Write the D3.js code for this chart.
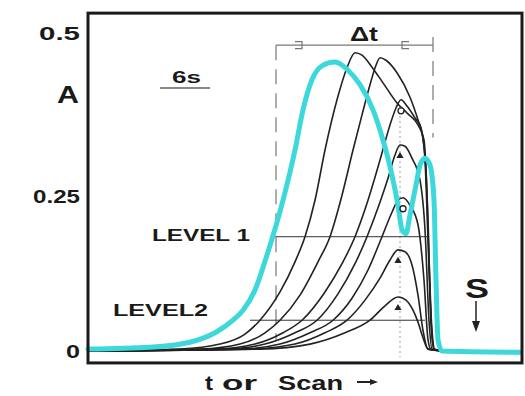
<!DOCTYPE html>
<html lang="en">
<head>
<meta charset="UTF-8">
<title>Peak profiles vs scan</title>
<script src="https://d3js.org/d3.v7.min.js"></script>
<style>
  body, html { margin: 0; background: #fff; }
  text { font-family: "Liberation Sans", Arial, sans-serif; fill: #1a1a1a; font-weight: bold; }
</style>
</head>
<body>
<div id="chart"></div>
<script>
// scan position t (arbitrary units) vs absorbance A
const yTicks = [0, 0.25, 0.5];
const yTickLabels = ["0", "0.25", "0.5"];

// thick cyan profile
const cyanPeak = [[0,0.003],[6.2,0.006],[10.2,0.014],[12.7,0.029],[14.5,0.049],[15.5,0.065],[16.7,0.097],
  [17.9,0.153],[19.5,0.240],[20.7,0.320],[21.5,0.384],[22.4,0.432],[23.4,0.454],[24.7,0.460],[26.0,0.447],
  [27.2,0.424],[28.5,0.384],[29.5,0.336],[30.4,0.280],[31.0,0.232],[31.4,0.193],[31.8,0.187],[32.2,0.217],
  [32.8,0.264],[33.2,0.296],[33.7,0.307],[34.2,0.296],[34.6,0.240],[34.8,0.113],[35.0,0.018],[35.4,0],
  [43.2,-0.002]];

// thin black family, largest first
const peak1 = [[0,0],[9.2,0.003],[13.2,0.011],[15.7,0.027],[17.2,0.049],[19.2,0.094],[20.7,0.142],[21.7,0.182],
  [22.7,0.240],[23.7,0.320],[24.9,0.400],[25.9,0.451],[26.7,0.475],[27.4,0.471],[28.4,0.452],[29.5,0.427],
  [30.9,0.395],[31.9,0.379],[33.0,0.360],[33.6,0.336],[34.0,0.209],[34.3,0.049],[34.6,0.003],[35.7,0]];
const peak2 = [[0,0],[11.2,0.003],[15.2,0.011],[17.7,0.029],[19.2,0.049],[21.2,0.089],[23.0,0.142],[24.2,0.182],
  [25.4,0.248],[26.5,0.320],[27.4,0.376],[28.2,0.424],[28.8,0.455],[29.2,0.467],[29.8,0.463],[30.9,0.443],
  [32.2,0.404],[33.0,0.368],[33.4,0.347],[33.8,0.288],[34.1,0.145],[34.4,0.033],[34.7,0.002],[35.7,0]];
const peak3 = [[0,0],[12.7,0.003],[16.7,0.011],[19.5,0.029],[21.4,0.049],[23.7,0.094],[25.4,0.139],[26.7,0.182],
  [28.0,0.240],[29.2,0.304],[30.2,0.360],[30.8,0.387],[31.3,0.400],[31.9,0.390],[32.7,0.371],[33.3,0.355],
  [33.7,0.304],[34.0,0.177],[34.3,0.049],[34.6,0.002],[35.7,0]];
const peak4 = [[0,0],[13.7,0.003],[17.7,0.011],[20.7,0.029],[22.9,0.049],[25.0,0.091],[26.7,0.139],[27.9,0.182],
  [29.0,0.228],[30.0,0.275],[30.7,0.312],[31.2,0.328],[31.7,0.326],[32.4,0.307],[33.2,0.272],[33.7,0.193],
  [34.1,0.049],[34.4,0.003],[35.7,0]];
const peak5 = [[0,0],[15.2,0.003],[19.2,0.011],[22.2,0.029],[24.5,0.049],[26.4,0.084],[28.0,0.129],[29.4,0.182],
  [30.4,0.221],[31.0,0.240],[31.5,0.244],[32.2,0.232],[33.0,0.201],[33.6,0.113],[34.0,0.018],[34.3,0.002],[35.7,0]];
const peak6 = [[0,0],[16.2,0.003],[20.7,0.011],[23.7,0.029],[25.9,0.049],[27.7,0.081],[29.2,0.116],[30.2,0.145],
  [31.0,0.161],[31.7,0.158],[32.4,0.137],[33.0,0.089],[33.5,0.033],[34.0,0.003],[35.7,0]];
const peak7 = [[0,0],[17.2,0.003],[22.2,0.011],[25.7,0.029],[28.2,0.049],[29.7,0.072],[31.0,0.086],[31.8,0.081],
  [32.5,0.065],[33.0,0.046],[33.5,0.021],[34.0,0.003],[35.7,0]];

const blackPeaks = [peak1, peak2, peak3, peak4, peak5, peak6, peak7];
// marker drawn just under the apex of the smaller peaks
const markedPeaks = [peak3, peak4, peak5, peak6, peak7];
const markerShapes = ["circle", "triangle", "circle", "triangle", "triangle"];

// detection levels
const levelNames = ["LEVEL 1", "LEVEL2"];
const levelA = [0.182, 0.049];
const levelFrom = [18.2, 16.2];
const levelTo = [34.0, 33.7];

// Δt window
const dtStart = 18.8, dtEnd = 34.5, dtA = 0.487;

const W = 525, H = 396;
const x = d3.scaleLinear().domain([0, 43.4]).range([88, 522]);
const y = d3.scaleLinear().domain([0, 0.5]).range([351, 37]);

const svg = d3.select("#chart").append("svg")
    .attr("width", W).attr("height", H);

// background guides
svg.append("line")
    .attr("x1", x(dtStart)).attr("x2", x(dtStart))
    .attr("y1", y(dtA)).attr("y2", y(0.018))
    .attr("stroke", "#9a9a9a").attr("stroke-width", 1.6)
    .attr("stroke-dasharray", "15,9");
svg.append("line")
    .attr("x1", x(dtEnd)).attr("x2", x(dtEnd))
    .attr("y1", y(0.5)).attr("y2", y(0.34))
    .attr("stroke", "#9a9a9a").attr("stroke-width", 1.6)
    .attr("stroke-dasharray", "15,9");

// Δt dimension line
svg.append("line")
    .attr("x1", x(dtStart)).attr("x2", x(dtEnd))
    .attr("y1", y(dtA)).attr("y2", y(dtA))
    .attr("stroke", "#777").attr("stroke-width", 1.2);
[[dtStart + 2.4, -1], [dtEnd - 2.9, 1]].forEach(([t, dir]) => {
  const cx = x(t), cy = y(dtA);
  svg.append("path")
      .attr("d", `M${cx + dir * 5},${cy - 3.5} L${cx - dir * 2},${cy - 3.5} L${cx - dir * 2},${cy + 3.5} L${cx + dir * 5},${cy + 3.5}`)
      .attr("fill", "none").attr("stroke", "#777").attr("stroke-width", 1.2);
});

// dotted apex line
svg.append("line")
    .attr("x1", x(31.2)).attr("x2", x(31.2))
    .attr("y1", y(0.39)).attr("y2", y(-0.01))
    .attr("stroke", "#b0b0b0").attr("stroke-width", 1.2)
    .attr("stroke-dasharray", "2,3");

// level lines
levelNames.forEach((name, i) => {
  svg.append("line")
      .attr("x1", x(levelFrom[i])).attr("x2", x(levelTo[i]))
      .attr("y1", y(levelA[i])).attr("y2", y(levelA[i]))
      .attr("stroke", "#333").attr("stroke-width", 1);
});

const line = d3.line()
    .x(d => x(d[0]))
    .y(d => y(d[1]))
    .curve(d3.curveMonotoneX);

svg.append("g")
  .selectAll("path")
  .data(blackPeaks)
  .join("path")
    .attr("d", line)
    .attr("fill", "none")
    .attr("stroke", "#222")
    .attr("stroke-width", 1.6)
    .attr("stroke-linejoin", "round");

svg.append("path")
    .datum(cyanPeak)
    .attr("d", line)
    .attr("fill", "none")
    .attr("stroke", "#3cd8dc")
    .attr("stroke-width", 5)
    .attr("stroke-linejoin", "round")
    .attr("stroke-linecap", "round");

// apex markers
markedPeaks.forEach((p, i) => {
  const top = p.reduce((a, b) => b[1] > a[1] ? b : a);
  const mx = x(top[0]), my = y(top[1]) + 11;
  if (markerShapes[i] === "circle") {
    svg.append("circle").attr("cx", mx).attr("cy", my).attr("r", 3)
        .attr("fill", "#fff").attr("stroke", "#222").attr("stroke-width", 1.3);
  } else {
    svg.append("path")
        .attr("transform", `translate(${mx},${my})`)
        .attr("d", d3.symbol(d3.symbolTriangle, 22)())
        .attr("fill", "#222");
  }
});

// frame
svg.append("rect")
    .attr("x", x(0)).attr("y", y(0.538))
    .attr("width", x(43.4) - x(0))
    .attr("height", y(-0.019) - y(0.538))
    .attr("fill", "none").attr("stroke", "#1a1a1a").attr("stroke-width", 3);

// text helper: stretched to match the wide lettering of the original
function label(str, x0, base, size, len) {
  svg.append("text")
      .attr("x", x0).attr("y", base)
      .attr("font-size", size)
      .attr("textLength", len)
      .attr("lengthAdjust", "spacingAndGlyphs")
      .text(str);
}

// y tick labels
const tickStart = [66, 33, 39];
const tickLen = [14, 47, 41];
const tickShift = [7, 9, 3];
yTicks.forEach((v, i) => label(yTickLabels[i], tickStart[i], y(v) + tickShift[i], 19, tickLen[i]));

label("A", 57, 103, 24, 22);
label("6s", 172, 83, 17, 29);
svg.append("line").attr("x1", 160).attr("x2", 210).attr("y1", 88).attr("y2", 88)
    .attr("stroke", "#888").attr("stroke-width", 2);
label("Δt", 350, 41, 20, 28);

// level labels
label(levelNames[0], 152, 241, 16, 98);
label(levelNames[1], 113, 316, 16, 95);

// S marker with down arrow
label("S", 465, 298, 27, 24);
svg.append("line").attr("x1", 476).attr("x2", 476).attr("y1", 301).attr("y2", 322)
    .attr("stroke", "#222").attr("stroke-width", 1.5);
svg.append("path").attr("d", "M472,321 L480,321 L476,332 Z").attr("fill", "#222");

// x axis caption
label("t", 205, 390, 20, 8);
label("or", 222, 390, 20, 35);
label("Scan", 278, 390, 20, 65);
svg.append("line").attr("x1", 357).attr("x2", 371).attr("y1", 382).attr("y2", 382)
    .attr("stroke", "#222").attr("stroke-width", 2);
svg.append("path").attr("d", "M370,379 L378,382 L370,385 Z").attr("fill", "#222");
</script>
</body>
</html>
